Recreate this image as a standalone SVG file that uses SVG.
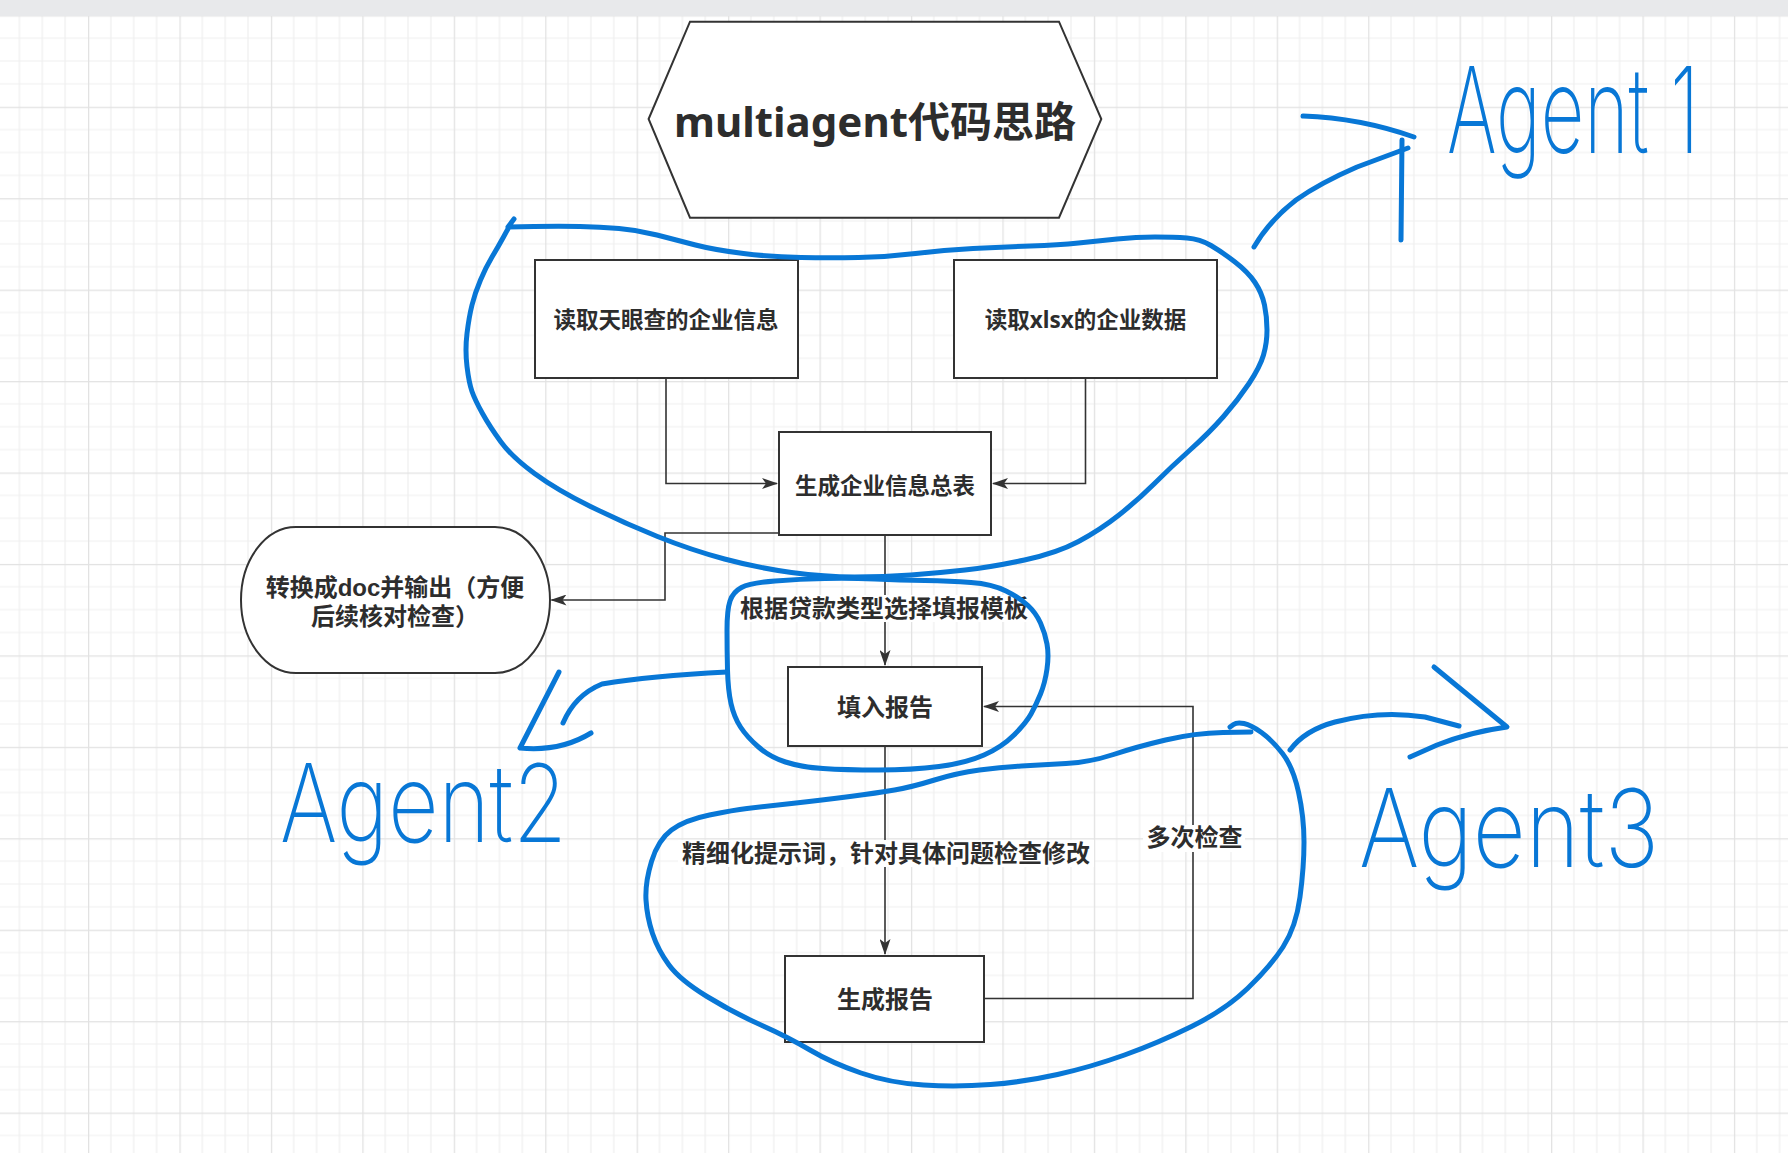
<svg xmlns="http://www.w3.org/2000/svg" width="1788" height="1153" viewBox="0 0 1788 1153">
<style>
.box{fill:#fff;stroke:#333;stroke-width:2}
.t{font-family:"Noto Sans","Noto Sans CJK SC",sans-serif;font-weight:bold;fill:#2d2d2d;text-anchor:middle}
.t22{font-size:22.5px}
.t24{font-size:24px}
.tl{font-family:"Liberation Sans","Noto Sans CJK SC",sans-serif}
.edge{fill:none;stroke:#333;stroke-width:1.6}
.lbg{fill:#fff}
.ink{fill:none;stroke:#0877d6;stroke-width:5;stroke-linecap:round;stroke-linejoin:round}
.hand{font-family:Inter,"Liberation Sans",sans-serif;font-weight:200;fill:#0877d6}
</style>
<defs>
<pattern id="grid" x="88" y="15.3" width="91.44" height="91.44" patternUnits="userSpaceOnUse">
<rect width="91.44" height="91.44" fill="#fff"/>
<path d="M22.86 0V91.44M45.72 0V91.44M68.58 0V91.44M0 22.86H91.44M0 45.72H91.44M0 68.58H91.44" stroke="#efefef" stroke-width="1.2"/>
<path d="M0.6 0V91.44M0 0.6H91.44" stroke="#e2e2e2" stroke-width="1.3"/>
</pattern>
<marker id="arr" viewBox="0 0 16 11" markerWidth="16" markerHeight="11" refX="15" refY="5.5" orient="auto" markerUnits="userSpaceOnUse">
<path d="M0,0 L16,5.5 L0,11 L4,5.5 Z" fill="#333"/>
</marker>
</defs>
<rect width="1788" height="1153" fill="url(#grid)"/>
<rect width="1788" height="16" fill="#e8e9eb"/>

<g id="connectors">
<path class="edge" d="M666,378 V483.5 H777" marker-end="url(#arr)"/>
<path class="edge" d="M1085.5,378 V483.5 H993" marker-end="url(#arr)"/>
<path class="edge" d="M779,533 H665 V600 H551.5" marker-end="url(#arr)"/>
<path class="edge" d="M885,535.7 V665" marker-end="url(#arr)"/>
<path class="edge" d="M885,746 V954" marker-end="url(#arr)"/>
<path class="edge" d="M984,998.5 H1193 V706.5 H984" marker-end="url(#arr)"/>
<rect class="lbg" x="739" y="595" width="290" height="27"/>
<text class="t t24" x="884" y="617">根据贷款类型选择填报模板</text>
<rect class="lbg" x="678" y="840" width="416" height="27"/>
<text class="t t24" x="886" y="862">精细化提示词，针对具体问题检查修改</text>
<rect class="lbg" x="1143" y="825" width="102" height="27"/>
<text class="t t24" x="1194.5" y="846">多次检查</text>
</g>

<g id="title">
<polygon class="box" points="648.6,119 690,21.7 1059,21.7 1101.3,119 1059,217.7 690,217.7"/>
<text class="t" x="875" y="137" font-size="42">multiagent代码思路</text>
</g>
<g id="read-tianyancha">
<rect class="box" x="535" y="260" width="263" height="118"/>
<text class="t t22" x="666" y="328">读取天眼查的企业信息</text>
</g>
<g id="read-xlsx">
<rect class="box" x="954" y="260" width="263" height="118"/>
<text class="t t22" x="1085.5" y="328">读取xlsx的企业数据</text>
</g>
<g id="summary-table">
<rect class="box" x="779" y="432" width="212" height="103"/>
<text class="t t22" x="885" y="494">生成企业信息总表</text>
</g>
<g id="to-doc">
<rect class="box" x="241" y="527" width="309" height="146" rx="55" ry="73"/>
<text class="t t24 tl"><tspan x="395" y="596">转换成doc并输出（方便</tspan><tspan x="395" y="625">后续核对检查）</tspan></text>
</g>
<g id="fill-report">
<rect class="box" x="788" y="667" width="194" height="79"/>
<text class="t t24" x="885" y="716">填入报告</text>
</g>
<g id="gen-report">
<rect class="box" x="785" y="956" width="199" height="86"/>
<text class="t t24" x="885" y="1008">生成报告</text>
</g>

<g id="annotations">
<path class="ink" d="M514,219 L508,227 L534,226.5 Q560,226 580,226.5 Q600,227 619,228.5 Q638,230 657,235 Q676,240 695.5,245 Q715,250 743.5,253.5 Q772,257 801,257.5 Q830,258 858.5,257.5 Q887,257 915.5,253.5 Q944,250 973,248.5 Q1002,247 1030.5,246 Q1059,245 1078.5,243 Q1098,241 1117,239 Q1136,237 1155,237 Q1174,237 1187,238 Q1200,239 1211,245.5 Q1222,252 1235,262 Q1248,272 1255,282.5 Q1262,293 1264.5,305 Q1267,317 1267,330 Q1267,343 1263.5,355 Q1260,367 1249,383.5 Q1238,400 1223.5,416.5 Q1209,433 1190,450 Q1171,467 1154.5,483.5 Q1138,500 1119,515 Q1100,530 1078.5,541.5 Q1057,553 1024.5,560 Q992,567 965,570 Q938,573 911,575 Q884,577 854.5,577 Q825,577 791.5,572.5 Q758,568 724.5,559 Q691,550 657.5,536.5 Q624,523 590.5,506.5 Q557,490 534.5,473.5 Q512,457 501,442 Q490,427 482.5,413.5 Q475,400 472,391.5 Q469,383 467,366.5 Q465,350 467,333.5 Q469,317 472,305 Q475,293 480.5,280 Q486,267 492,257 Q498,247 503.5,237 L509,227"/>
<path class="ink" d="M1254,247 Q1270,220 1296,200 Q1320,183 1357,167 L1408,148"/>
<path class="ink" d="M1303,116 Q1360,118 1414,137"/>
<path class="ink" d="M1402,140 L1401,240"/>
<text class="hand" transform="translate(1447,153) scale(1,1.3)" x="0" y="0" font-size="92" textLength="252" lengthAdjust="spacingAndGlyphs">Agent 1</text>

<path class="ink" d="M775,581 Q800,579 825,578.5 Q850,578 875,579 Q900,580 925,580.5 Q950,581 971,582.5 Q992,584 1006,591 Q1020,598 1028,605.5 Q1036,613 1040.5,623 Q1045,633 1047,644 Q1049,655 1047,669 Q1045,683 1040.5,694 Q1036,705 1031,714 Q1026,723 1014,735 Q1002,747 984,755 Q966,763 939,766.5 Q912,770 878.5,770 Q845,770 823,768.5 Q801,767 785.5,762 Q770,757 758.5,747 Q747,737 740.5,727 Q734,717 731,703.5 Q728,690 727.5,670 Q727,650 727,630 Q727,610 730,601 Q733,592 741.5,587.5 Q750,583 775,581"/>
<path class="ink" d="M727,672 Q650,676 602,684 Q575,695 563,723"/>
<path class="ink" d="M559,672 L520,748 Q560,752 591,733"/>
<text class="hand" x="280" y="842" font-size="108" textLength="287" lengthAdjust="spacingAndGlyphs">Agent2</text>

<path class="ink" d="M1251,732 L1223,732.5 Q1195,733 1165.5,740 Q1136,747 1113.5,754.5 Q1091,762 1066,763.5 Q1041,765 1021.5,766 Q1002,767 979.5,770 Q957,773 934.5,780 Q912,787 894.5,790 Q877,793 850,796.5 Q823,800 791.5,803.5 Q760,807 747,808.5 Q734,810 709.5,815 Q685,820 671.5,830 Q658,840 651.5,861.5 Q645,883 646,900 Q647,917 652.5,933.5 Q658,950 669,965 Q680,980 707,996.5 Q734,1013 761,1025 Q788,1037 810,1050 Q832,1063 861,1073 Q890,1083 923.5,1085 Q957,1087 990.5,1084.5 Q1024,1082 1057.5,1074.5 Q1091,1067 1124.5,1055 Q1158,1043 1191.5,1026.5 Q1225,1010 1247.5,988.5 Q1270,967 1283,947 Q1296,927 1300,897 Q1304,867 1304,842 Q1304,817 1298.5,792 Q1293,767 1282.5,753.5 Q1272,740 1261.5,732.5 Q1251,725 1244,723.5 Q1237,722 1233.5,724.5 L1230,727"/>
<path class="ink" d="M1290,750 Q1305,730 1335,722 Q1380,710 1425,717 L1459,726"/>
<path class="ink" d="M1434,667 L1507,727 Q1470,732 1437,745 L1410,757"/>
<text class="hand" x="1359" y="867" font-size="108" textLength="300" lengthAdjust="spacingAndGlyphs">Agent3</text>
</g>
</svg>
